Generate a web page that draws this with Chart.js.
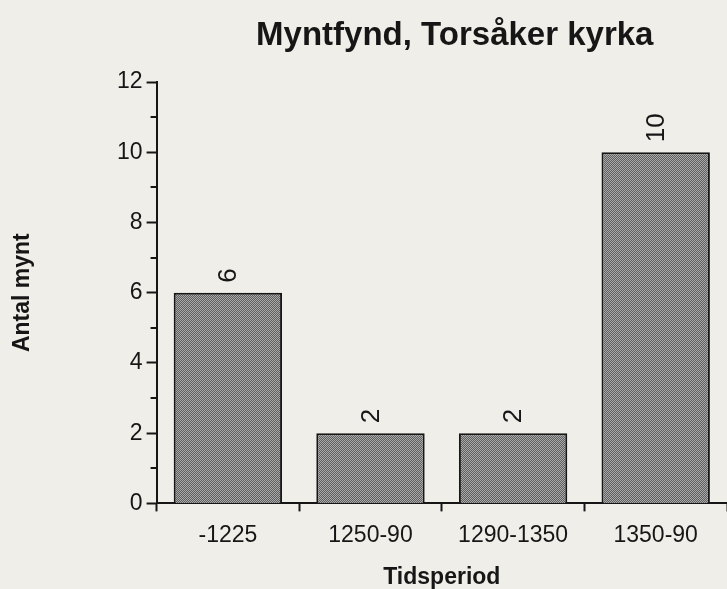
<!DOCTYPE html>
<html>
<head>
<meta charset="utf-8">
<title>Myntfynd, Torsåker kyrka</title>
<script src="https://cdn.jsdelivr.net/npm/chart.js@4.4.0/dist/chart.umd.min.js"></script>
<style>
  html, body { margin: 0; padding: 0; background: #f0eee9; }
  #wrap { width: 727px; height: 589px; }
</style>
</head>
<body>
<div id="wrap"><canvas id="coins-chart" width="727" height="589"></canvas></div>
<script>
// Data
const periods = ['-1225', '1250-90', '1290-1350', '1350-90'];
const coinCounts = [6, 2, 2, 10];
const yMin = 0;
const yMax = 12;

const titleText = 'Myntfynd, Torsåker kyrka';
const xTitle = 'Tidsperiod';
const yTitle = 'Antal mynt';

const FONT = '"Liberation Sans", Arial, Helvetica, sans-serif';
const INK = '#161616';

// stippled grey fill like the print screen in the scan
function makeStipple() {
  const c = document.createElement('canvas');
  c.width = 2;
  c.height = 2;
  const g = c.getContext('2d');
  g.fillStyle = '#5e5e5e';
  g.fillRect(0, 0, 2, 2);
  g.fillStyle = '#aaaaaa';
  g.fillRect(0, 0, 1, 1);
  g.fillRect(1, 1, 1, 1);
  return g.createPattern(c, 'repeat');
}

// title sits over the plot rather than the whole canvas, so draw it here
const plotTitle = {
  id: 'plotTitle',
  afterDraw(chart) {
    const a = chart.chartArea;
    const ctx = chart.ctx;
    ctx.save();
    ctx.fillStyle = INK;
    ctx.font = 'bold 33px ' + FONT;
    ctx.textAlign = 'center';
    ctx.textBaseline = 'alphabetic';
    ctx.fillText(titleText, (a.left + a.right) / 2 + 13, 45);
    ctx.restore();
  }
};

// short minor ticks on the odd y values
const minorTicks = {
  id: 'minorTicks',
  afterDraw(chart) {
    const y = chart.scales.y;
    const ctx = chart.ctx;
    ctx.save();
    ctx.strokeStyle = INK;
    ctx.lineWidth = 2;
    for (let v = yMin + 1; v < yMax; v += 2) {
      const py = Math.round(y.getPixelForValue(v));
      ctx.beginPath();
      ctx.moveTo(y.right - 6, py);
      ctx.lineTo(y.right, py);
      ctx.stroke();
    }
    ctx.restore();
  }
};

// vertical value labels above each bar
const barValues = {
  id: 'barValues',
  afterDatasetsDraw(chart) {
    const ctx = chart.ctx;
    const meta = chart.getDatasetMeta(0);
    ctx.save();
    ctx.fillStyle = INK;
    ctx.font = '26px ' + FONT;
    ctx.textAlign = 'left';
    ctx.textBaseline = 'middle';
    meta.data.forEach((bar, i) => {
      ctx.save();
      ctx.translate(bar.x + 1, bar.y - 10);
      ctx.rotate(-Math.PI / 2);
      ctx.fillText(String(coinCounts[i]), 0, 0);
      ctx.restore();
    });
    ctx.restore();
  }
};

new Chart(document.getElementById('coins-chart'), {
  type: 'bar',
  data: {
    labels: periods,
    datasets: [{
      data: coinCounts,
      backgroundColor: makeStipple(),
      borderColor: INK,
      borderWidth: 2,
      borderSkipped: 'bottom',
      categoryPercentage: 1,
      barPercentage: 0.76
    }]
  },
  options: {
    responsive: false,
    animation: false,
    layout: { padding: { left: 11, right: 0, top: 82, bottom: 0 } },
    plugins: {
      legend: { display: false },
      tooltip: { enabled: false },
      title: { display: false }
    },
    scales: {
      x: {
        grid: { drawOnChartArea: false, offset: true, tickLength: 8, tickColor: INK, tickWidth: 2 },
        border: { display: true, color: INK, width: 2 },
        ticks: { color: INK, font: { family: FONT, size: 23 }, padding: 10, maxRotation: 0 },
        title: {
          display: true,
          text: xTitle,
          color: INK,
          font: { family: FONT, size: 23, weight: 'bold', lineHeight: 1 },
          padding: { top: 7, bottom: 0 }
        }
      },
      y: {
        min: yMin,
        max: yMax,
        grid: {
          drawOnChartArea: false,
          tickLength: 10,
          tickWidth: 2,
          tickColor: (c) => (c.tick && c.tick.value % 2 === 0 ? INK : 'rgba(0,0,0,0)')
        },
        border: { display: true, color: INK, width: 2 },
        ticks: {
          stepSize: 1,
          color: INK,
          font: { family: FONT, size: 23 },
          padding: 4,
          callback: (v) => (v % 2 === 0 ? v : '')
        },
        title: {
          display: true,
          text: yTitle,
          color: INK,
          font: { family: FONT, size: 23, weight: 'bold', lineHeight: 1 },
          padding: { top: 0, bottom: 79 }
        }
      }
    }
  },
  plugins: [plotTitle, minorTicks, barValues]
});
</script>
</body>
</html>
